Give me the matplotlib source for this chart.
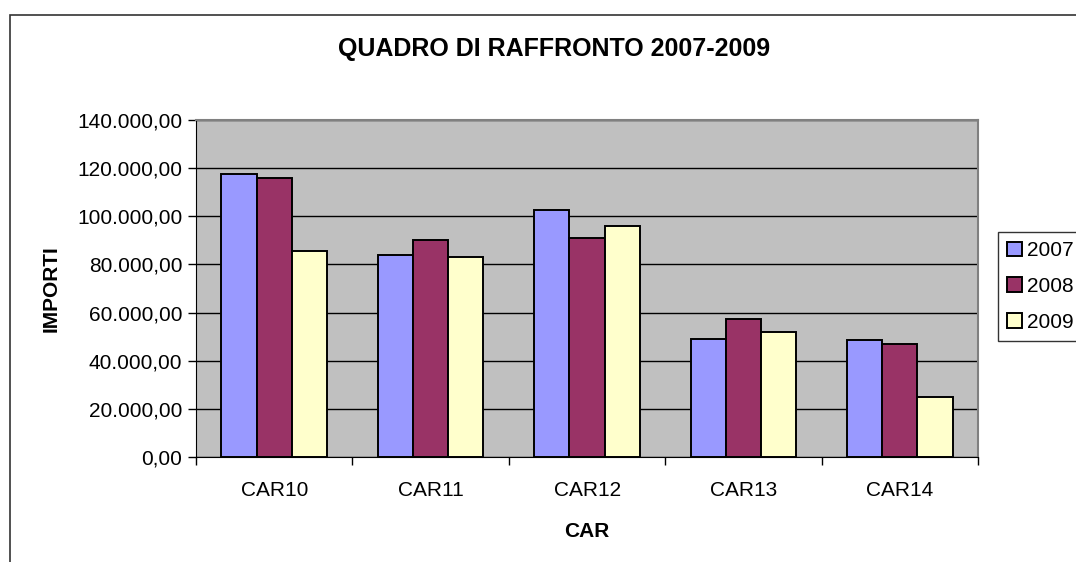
import matplotlib.pyplot as plt
import matplotlib.patches as mpatches
import numpy as np

# --- dati --------------------------------------------------
categorie = ["CAR10", "CAR11", "CAR12", "CAR13", "CAR14"]
anni = ["2007", "2008", "2009"]
importi_2007 = [117500, 83900, 102500, 49000, 48500]
importi_2008 = [116000, 90200, 91000, 57200, 46800]
importi_2009 = [85500, 83000, 96000, 51800, 24800]
colori = ["#9999FF", "#993366", "#FFFFCC"]

plt.rcParams["font.family"] = ["Liberation Sans", "DejaVu Sans"]
fs = 15

fig = plt.figure(figsize=(10.76, 5.62), dpi=100)
ax = fig.add_axes([0.1822, 0.1868, 0.7268, 0.5997])

# cornice del grafico
fig.patches.append(mpatches.Rectangle((0.0095, -0.05), 1.1, 1.023,
                                      transform=fig.transFigure, fill=False,
                                      edgecolor="#333333", linewidth=1.2))

x = np.arange(len(categorie))
larghezza = 0.225
serie = [importi_2007, importi_2008, importi_2009]
for i, (valori, col, anno) in enumerate(zip(serie, colori, anni)):
    ax.bar(x + (i - 1) * larghezza, valori, larghezza, color=col,
           edgecolor="black", linewidth=1.4, label=anno, zorder=3)

ax.set_facecolor("#C0C0C0")
ax.set_xlim(-0.5, len(categorie) - 0.5)
ax.set_ylim(0, 140000)
ax.set_yticks(np.arange(0, 140001, 20000))
ax.set_yticklabels([f"{int(v):,}".replace(",", ".") + ",00" for v in np.arange(0, 140001, 20000)])
ax.yaxis.grid(True, color="black", linewidth=1, zorder=0)
ax.set_axisbelow(True)

ax.set_xticks(x)
ax.set_xticklabels(categorie)
ax.set_xticks(np.arange(-0.5, len(categorie)), minor=True)
ax.tick_params(axis="x", which="major", length=0, labelsize=fs, pad=17)
ax.tick_params(axis="x", which="minor", length=6, width=1, direction="out")
ax.tick_params(axis="y", length=6, width=1, direction="out", labelsize=fs, pad=4)

for lato in ["top", "right"]:
    ax.spines[lato].set_color("#808080")
    ax.spines[lato].set_linewidth(1.5)
ax.spines["left"].set_color("black")
ax.spines["bottom"].set_color("black")

ax.set_xlabel("CAR", fontsize=fs, fontweight="bold", labelpad=16)
ax.set_ylabel("IMPORTI", fontsize=fs, fontweight="bold", labelpad=12)
fig.text(0.515, 0.913, "QUADRO DI RAFFRONTO 2007-2009", ha="center", va="center",
         fontsize=18, fontweight="bold")

leg = ax.legend(loc="upper left", bbox_to_anchor=(1.0256, 0.668), fontsize=fs,
                frameon=True, fancybox=False, edgecolor="black",
                handlelength=0.7, handleheight=0.7, handletextpad=0.25,
                labelspacing=0.8, borderpad=0.45, borderaxespad=0)
leg.get_frame().set_linewidth(1)

fig.savefig("out.png", dpi=100)
